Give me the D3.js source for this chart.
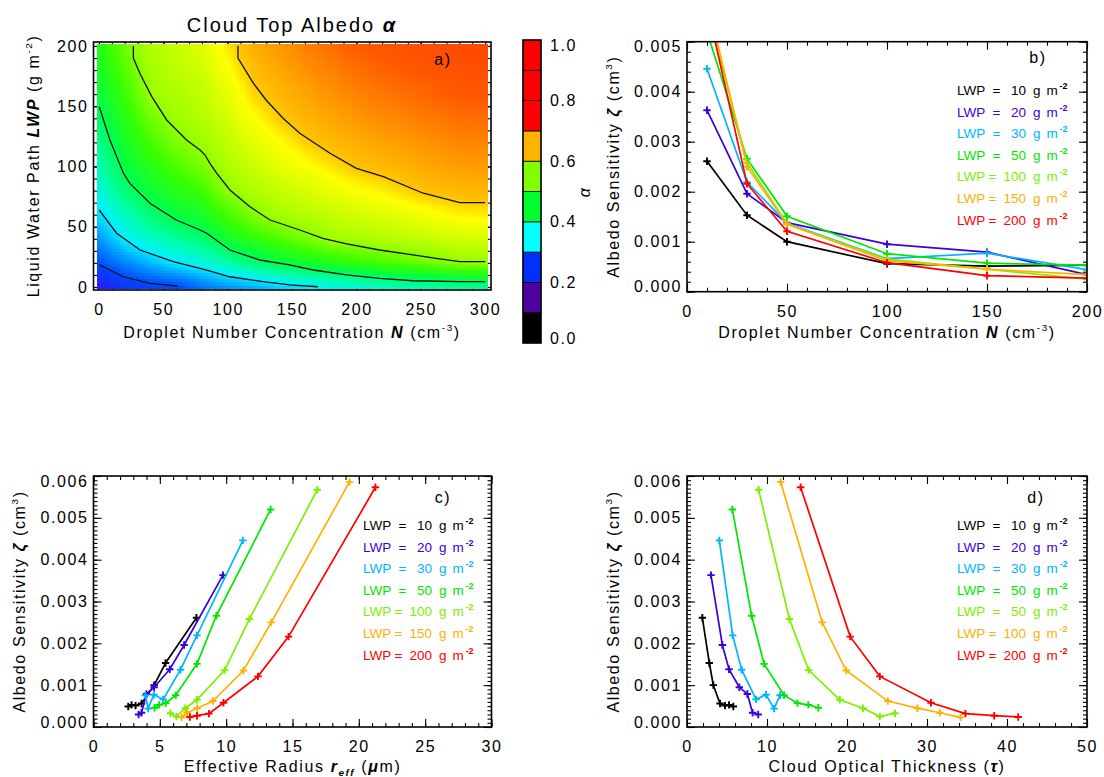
<!DOCTYPE html>
<html><head><meta charset="utf-8">
<script src="https://cdn.jsdelivr.net/npm/d3@7"></script>
<style>
body{margin:0;background:#fff}
text{font-family:"Liberation Sans",Arial,sans-serif;fill:#000}
.lbl{font-size:16px;letter-spacing:1.6px}
</style></head>
<body><svg id="chart" width="1104" height="777"></svg>
<script>
// ================= DATA =================
// Panel a: albedo grid (rows = N columns, values along LWP)
const gridN   = [0,20,40,60,80,100,120,140,160,180,200,220,240,260,280,300];
const gridLWP = [0,20,40,60,80,100,120,140,160,180,200];
const albedoByN = [
 [0.130,0.204,0.247,0.291,0.319,0.342,0.365,0.388,0.406,0.419,0.431],
 [0.175,0.237,0.300,0.338,0.376,0.405,0.420,0.435,0.450,0.465,0.479],
 [0.188,0.269,0.330,0.378,0.412,0.434,0.456,0.478,0.500,0.508,0.517],
 [0.195,0.298,0.356,0.406,0.433,0.459,0.486,0.504,0.514,0.524,0.533],
 [0.225,0.316,0.379,0.421,0.451,0.482,0.504,0.516,0.527,0.538,0.549],
 [0.245,0.348,0.416,0.455,0.494,0.513,0.527,0.542,0.556,0.571,0.585],
 [0.260,0.377,0.439,0.488,0.515,0.534,0.553,0.572,0.591,0.606,0.618],
 [0.280,0.401,0.461,0.508,0.530,0.552,0.574,0.596,0.611,0.625,0.639],
 [0.295,0.415,0.481,0.518,0.543,0.569,0.594,0.612,0.628,0.644,0.660],
 [0.310,0.430,0.502,0.529,0.557,0.585,0.608,0.626,0.643,0.661,0.678],
 [0.320,0.443,0.509,0.540,0.571,0.601,0.620,0.639,0.658,0.677,0.696],
 [0.335,0.456,0.516,0.548,0.581,0.608,0.629,0.649,0.669,0.690,0.705],
 [0.345,0.467,0.523,0.559,0.594,0.617,0.638,0.659,0.679,0.700,0.710],
 [0.350,0.479,0.531,0.570,0.605,0.626,0.647,0.668,0.690,0.705,0.715],
 [0.355,0.494,0.539,0.580,0.611,0.633,0.656,0.678,0.700,0.710,0.720],
 [0.360,0.496,0.541,0.582,0.613,0.635,0.658,0.680,0.702,0.714,0.725]
];
// contour lines, [N, LWP]
const contour020 = [[0.2,18.3],[19,8.5],[39.6,3],[61.6,0.8]];
const contour030 = [[0.2,63.9],[13.7,44.6],[31.9,30.7],[57.7,21],[78.5,15.5],[83.7,14.1],[101.7,8.5],[127.7,4.4],[148,1.7],[170,0.2]];
const contour040 = [[0.2,149.6],[8.5,122],[19,94.4],[24,86],[39.6,69.5],[60,55.6],[78.5,47.3],[83.7,44.6],[101.7,30.7],[125,22.4],[148,18.3],[166.5,14.1],[192.4,10],[218,7.2],[244,5.2],[280.5,4.4],[300,4.4]];
const contour050 = [[26.7,200],[26.7,190],[31.9,177],[41,158],[52.6,138.6],[68,122],[78.5,113.7],[82.4,109.5],[86.2,102.6],[91.4,94.4],[101.7,80.5],[117.3,66.6],[132.9,55.6],[156,47.3],[174,40.4],[192.4,35.7],[218,30.7],[244,26.6],[262,23.8],[280.5,21],[300,21]];
const contour060 = [[108,200],[108,190],[120,169],[130,155],[143,140],[156,127.6],[179.5,111],[200,98.5],[221,91.5],[252,77.8],[280.5,70],[300,70]];
const heatStops  = [0.12,0.2,0.25,0.3,0.35,0.4,0.45,0.5,0.55,0.575,0.6,0.65,0.7,0.73];
const heatColors = ["#3010ff","#0048ff","#0098ff","#00f0ff","#00ffa8","#00ff48","#38ff00","#98ff00","#e0ff00","#ffff00","#ffc400","#ff8c00","#ff5800","#ff4400"];
// colour bar
const cbarBands  = [0,0.1,0.2,0.3,0.4,0.5,0.6,0.7,0.8,0.9];
const cbarColors = ["#000000","#5000a0","#0030ff","#00ffff","#00ff30","#80ff00","#ffb400","#ff0000","#ff0000","#ff0000"];
const cbarTicks  = [0,0.2,0.4,0.6,0.8,1.0];

// Panels b-d
const dropletN = [10,30,50,100,150,200,250];
const seriesColors = ["#000000","#3c00dc","#00b4ff","#00e600","#7cf000","#ffb000","#ff0000"];
const legendB = ["10","20","30","50","100","150","200"];
const legendD = ["10","20","30","50","50","100","200"];
const zeta_LWP10  = [2.61,1.53,1.00,0.56,0.51,0.53,0.49];
const zeta_LWP20  = [3.63,1.96,1.38,0.95,0.79,0.34,0.30];
const zeta_LWP30  = [4.46,2.19,1.37,0.66,0.77,0.44,0.76];
const zeta_LWP50  = [5.20,2.66,1.51,0.76,0.57,0.53,0.46];
const zeta_LWP100 = [5.67,2.58,1.36,0.65,0.45,0.25,0.33];
const zeta_LWP150 = [5.86,2.50,1.35,0.62,0.45,0.34,0.23];
const zeta_LWP200 = [5.73,2.16,1.21,0.58,0.32,0.27,0.24];
const reff_LWP10  = [7.76,5.43,4.57,3.62,3.17,2.87,2.62];
const reff_LWP20  = [9.76,6.83,5.75,4.57,4.00,3.62,3.40];
const reff_LWP30  = [11.26,7.80,6.56,5.25,4.55,4.12,3.91];
const reff_LWP50  = [13.35,9.26,7.80,6.20,5.45,4.95,4.60];
const reff_LWP100 = [16.87,11.75,9.89,7.80,6.92,6.25,5.80];
const reff_LWP150 = [19.30,13.40,11.30,9.00,7.82,7.05,6.65];
const reff_LWP200 = [21.25,14.70,12.40,9.80,8.70,7.80,7.27];
const tau_LWP10   = [1.92,2.79,3.29,4.13,4.75,5.25,5.79];
const tau_LWP20   = [3.00,4.42,5.25,6.54,7.54,8.20,8.90];
const tau_LWP30   = [4.04,5.71,6.83,8.63,9.88,10.88,11.63];
const tau_LWP50   = [5.67,8.08,9.63,12.13,13.80,15.17,16.42];
const tau_LWP100  = [8.95,12.80,15.20,19.10,22.00,24.10,26.00];
const tau_LWP150  = [11.70,16.90,19.90,25.10,28.80,31.60,34.20];
const tau_LWP200  = [14.20,20.40,24.10,30.50,34.80,38.40,41.40];

const zetaSeries = [zeta_LWP10,zeta_LWP20,zeta_LWP30,zeta_LWP50,zeta_LWP100,zeta_LWP150,zeta_LWP200];
const reffSeries = [reff_LWP10,reff_LWP20,reff_LWP30,reff_LWP50,reff_LWP100,reff_LWP150,reff_LWP200];
const tauSeries  = [tau_LWP10,tau_LWP20,tau_LWP30,tau_LWP50,tau_LWP100,tau_LWP150,tau_LWP200];

// ================= DRAW =================
const svg = d3.select("#chart");
const defs = svg.append("defs");

function rich(sel, parts, size){
  let shift = 0;
  parts.forEach(p=>{
    const t = sel.append("tspan").text(p.t);
    let target = 0;
    if (p.sup) target = -0.42*size;
    if (p.sub) target = 0.28*size;
    if (target !== shift){ t.attr("dy", target - shift); shift = target; }
    if (p.sup || p.sub) t.attr("font-size", (size*0.62)+"px");
    if (p.bi){ t.attr("font-weight","bold").attr("font-style","italic"); }
  });
  return sel;
}

function frameAxes(g, sx, sy, cfg){
  const [xl,xr] = sx.range(), [yb,yt] = sy.range();
  const mk = (axis, tr)=>{
    const a = g.append("g").attr("transform",tr).call(axis);
    a.select(".domain").remove();
    a.attr("font-family",null).attr("font-size",null);
    a.selectAll("line").attr("stroke","#000").attr("stroke-width",1.1);
    return a;
  };
  [[d3.axisBottom,`translate(0,${yb})`],[d3.axisTop,`translate(0,${yt})`]].forEach(([f,tr])=>{
    mk(f(sx).tickValues(cfg.xMin).tickSize(-4).tickFormat(""),tr);
    mk(f(sx).tickValues(cfg.xMaj).tickSize(-8).tickFormat(""),tr);
  });
  [[d3.axisLeft,`translate(${xl},0)`],[d3.axisRight,`translate(${xr},0)`]].forEach(([f,tr])=>{
    mk(f(sy).tickValues(cfg.yMin).tickSize(-4).tickFormat(""),tr);
    mk(f(sy).tickValues(cfg.yMaj).tickSize(-8).tickFormat(""),tr);
  });
}
function axisLabels(g, sx, sy, cfg){
  const [xl,xr] = sx.range(), [yb,yt] = sy.range();
  const ax = g.append("g").attr("transform",`translate(0,${yb})`)
    .call(d3.axisBottom(sx).tickValues(cfg.xMaj).tickSize(0).tickPadding(13.5).tickFormat(cfg.xFmt));
  const ay = g.append("g").attr("transform",`translate(${xl},0)`)
    .call(d3.axisLeft(sy).tickValues(cfg.yMaj).tickSize(0).tickPadding(5).tickFormat(cfg.yFmt));
  [ax,ay].forEach(a=>{a.select(".domain").remove(); a.attr("font-family",null).attr("font-size",null); a.selectAll("text").attr("class","lbl");});
  if (cfg.endShift){
    const n = ay.selectAll("text").nodes();
    d3.select(n[0]).attr("y",-cfg.endShift);
    d3.select(n[n.length-1]).attr("y",cfg.endShift);
  }
}
function frameRect(g, sx, sy){
  const [xl,xr] = sx.range(), [yb,yt] = sy.range();
  g.append("rect").attr("x",xl).attr("y",yt).attr("width",xr-xl).attr("height",yb-yt)
    .attr("fill","none").attr("stroke","#000").attr("stroke-width",1.6);
}
function stepTicks(a,b,s){ return d3.range(Math.round((b-a)/s)+1).map(i=>+(a+i*s).toFixed(6)); }

// ---------- Panel a ----------
{
  const g = svg.append("g");
  const sx = d3.scaleLinear().domain([-4.27,304.6]).range([93.5,491]);
  const sy = d3.scaleLinear().domain([-2.49,203.3]).range([290,42]);
  const cfg = {xMaj:stepTicks(0,300,50), xMin:stepTicks(0,300,10), yMaj:stepTicks(0,200,50), yMin:stepTicks(0,200,10), xFmt:d=>d, yFmt:d=>d};
  frameAxes(g,sx,sy,cfg);
  const color = d3.scaleLinear().domain(heatStops).range(heatColors).clamp(true);
  function alphaAt(n,l){
    n = Math.max(0,Math.min(300,n)); l = Math.max(0,Math.min(200,l));
    const i = Math.min(gridN.length-2, d3.bisectRight(gridN,n)-1);
    const j = Math.min(gridLWP.length-2, d3.bisectRight(gridLWP,l)-1);
    const fx = (n-gridN[i])/(gridN[i+1]-gridN[i]);
    const fy = (l-gridLWP[j])/(gridLWP[j+1]-gridLWP[j]);
    const a00=albedoByN[i][j], a10=albedoByN[i+1][j], a01=albedoByN[i][j+1], a11=albedoByN[i+1][j+1];
    return a00*(1-fx)*(1-fy)+a10*fx*(1-fy)+a01*(1-fx)*fy+a11*fx*fy;
  }
  const n0=-1.5, n1=302, l0=-0.8, l1=201.5, nx=120, ny=80;
  const dn=(n1-n0)/nx, dl=(l1-l0)/ny;
  const cells=[];
  for(let a=0;a<nx;a++) for(let b=0;b<ny;b++) cells.push([n0+a*dn, l0+b*dl]);
  g.append("g").attr("shape-rendering","crispEdges").selectAll("rect").data(cells).join("rect")
    .attr("x",d=>sx(d[0])).attr("y",d=>sy(d[1]+dl))
    .attr("width",d=>sx(d[0]+dn)-sx(d[0])+0.6).attr("height",d=>sy(d[1])-sy(d[1]+dl)+0.6)
    .attr("fill",d=>color(alphaAt(d[0]+dn/2,d[1]+dl/2)));
  const line = d3.line().x(d=>sx(d[0])).y(d=>sy(d[1]));
  g.append("g").selectAll("path").data([contour020,contour030,contour040,contour050,contour060]).join("path")
    .attr("d",line).attr("fill","none").attr("stroke","#111").attr("stroke-width",1.3);
  frameRect(g,sx,sy);
  axisLabels(g,sx,sy,cfg);
  rich(g.append("text").attr("x",292).attr("y",31.5).attr("text-anchor","middle")
      .style("font-size","20px").style("letter-spacing","2px"),
      [{t:"Cloud Top Albedo "},{t:"α",bi:true}],20);
  rich(g.append("text").attr("class","lbl").attr("x",292).attr("y",338).attr("text-anchor","middle"),
      [{t:"Droplet Number Concentration "},{t:"N",bi:true},{t:" (cm"},{t:"-3",sup:true},{t:")"}],16);
  rich(g.append("text").attr("class","lbl").attr("text-anchor","middle")
      .attr("transform","translate(39,166) rotate(-90)"),
      [{t:"Liquid Water Path "},{t:"LWP",bi:true},{t:" (g m"},{t:"-2",sup:true},{t:")"}],16);
  g.append("text").attr("class","lbl").attr("x",443).attr("y",65).attr("text-anchor","middle").text("a)");

  // colour bar
  const cy = d3.scaleLinear().domain([0,1]).range([343,40]);
  const cb = svg.append("g");
  cb.selectAll("rect").data(cbarBands).join("rect")
    .attr("x",523).attr("width",18).attr("y",d=>cy(d+0.1)).attr("height",d=>cy(d)-cy(d+0.1))
    .attr("fill",(d,i)=>cbarColors[i]).attr("stroke","#000").attr("stroke-width",0.8);
  cb.append("rect").attr("x",523).attr("y",40).attr("width",18).attr("height",303)
    .attr("fill","none").attr("stroke","#000").attr("stroke-width",1.4);
  cb.selectAll("text.t").data(cbarTicks).join("text").attr("class","lbl")
    .attr("x",550).attr("y",(d,i)=>cy(d)+5.5+(i===0?-5:(i===cbarTicks.length-1?5:0)))
    .text(d=>d.toFixed(1));
  cb.append("text").attr("class","lbl").attr("transform","translate(590,192) rotate(-90)")
    .attr("text-anchor","middle").style("font-style","italic").text("α");
}

// ---------- series panels ----------
function seriesPanel(opts){
  const g = svg.append("g");
  const sx = d3.scaleLinear().domain(opts.xDom).range(opts.xR);
  const sy = d3.scaleLinear().domain(opts.yDom).range(opts.yR);
  frameAxes(g,sx,sy,opts.cfg);
  const cid = "clip"+opts.key;
  defs.append("clipPath").attr("id",cid).append("rect")
    .attr("x",opts.xR[0]).attr("y",opts.yR[1]).attr("width",opts.xR[1]-opts.xR[0]).attr("height",opts.yR[0]-opts.yR[1]);
  const pg = g.append("g").attr("clip-path",`url(#${cid})`);
  const line = d3.line().x(d=>sx(d[0])).y(d=>sy(d[1]));
  zetaSeries.forEach((zs,k)=>{
    const xs = opts.xSeries ? opts.xSeries[k] : dropletN;
    const pts = xs.map((x,i)=>[x, zs[i]*0.001]);
    pg.append("path").attr("d",line(pts)).attr("fill","none").attr("stroke",seriesColors[k]).attr("stroke-width",1.7);
    pg.append("g").selectAll("path").data(pts).join("path")
      .attr("d",d=>{const x=sx(d[0]),y=sy(d[1]);return `M${x-3.7},${y}H${x+3.7}M${x},${y-3.7}V${y+3.7}`;})
      .attr("stroke",seriesColors[k]).attr("stroke-width",1.9);
  });
  frameRect(g,sx,sy);
  axisLabels(g,sx,sy,opts.cfg);
  // legend
  const lx = opts.legX;
  opts.legend.forEach((lab,k)=>{
    const y = opts.legY + k*21.6;
    const lg = g.append("g").style("font-size","13.5px");
    const tx=(x,t,anchor)=>lg.append("text").attr("x",x).attr("y",y).attr("text-anchor",anchor||"start").style("fill",seriesColors[k]).text(t);
    tx(lx,"LWP");
    tx(lx+(lab.length>2?31.5:35.5),"=");
    tx(lx+69,lab,"end");
    tx(lx+76,"g");
    tx(lx+89.5,"m");
    lg.append("text").attr("x",lx+102.5).attr("y",y-6).style("fill",seriesColors[k]).style("font-size","9px").style("font-weight","bold").text("-2");
  });
  g.append("text").attr("class","lbl").attr("x",opts.tag[0]).attr("y",opts.tag[1]).attr("text-anchor","middle").text(opts.tagText);
  rich(g.append("text").attr("class","lbl").attr("x",(opts.xR[0]+opts.xR[1])/2).attr("y",opts.xTitleY).attr("text-anchor","middle"), opts.xTitle,16);
  rich(g.append("text").attr("class","lbl").attr("text-anchor","middle")
    .attr("transform",`translate(${opts.yTitleX},${(opts.yR[0]+opts.yR[1])/2}) rotate(-90)`), opts.yTitle,16);
}
const zetaTitle = [{t:"Albedo Sensitivity "},{t:"ζ",bi:true},{t:" (cm"},{t:"3",sup:true},{t:")"}];
const fmt3 = d=>d3.format(".3f")(d);

seriesPanel({key:"b", xDom:[0,200], xR:[687,1087], yDom:[0,0.005], yR:[291.7,41.7],
  cfg:{xMaj:stepTicks(0,200,50), xMin:stepTicks(0,200,10), yMaj:stepTicks(0,0.005,0.001), yMin:stepTicks(0,0.005,0.0002), xFmt:d=>d, yFmt:fmt3, endShift:5},
  legend:legendB, legX:957, legY:95, tag:[1038,63], tagText:"b)",
  xTitle:[{t:"Droplet Number Concentration "},{t:"N",bi:true},{t:" (cm"},{t:"-3",sup:true},{t:")"}], xTitleY:338,
  yTitle:zetaTitle, yTitleX:619});

seriesPanel({key:"c", xDom:[0,30], xR:[93.5,491.5], yDom:[0,0.006], yR:[727,476], xSeries:reffSeries,
  cfg:{xMaj:stepTicks(0,30,5), xMin:stepTicks(0,30,1), yMaj:stepTicks(0,0.006,0.001), yMin:stepTicks(0,0.006,0.0001), xFmt:d=>d, yFmt:fmt3, endShift:5},
  legend:legendB, legX:363, legY:530, tag:[443,503], tagText:"c)",
  xTitle:[{t:"Effective Radius "},{t:"r",bi:true},{t:"eff",sub:true,bi:true},{t:" ("},{t:"μ",bi:true},{t:"m)"}], xTitleY:772,
  yTitle:zetaTitle, yTitleX:25});

seriesPanel({key:"d", xDom:[0,50], xR:[687,1087], yDom:[0,0.006], yR:[727,476], xSeries:tauSeries,
  cfg:{xMaj:stepTicks(0,50,10), xMin:stepTicks(0,50,2), yMaj:stepTicks(0,0.006,0.001), yMin:stepTicks(0,0.006,0.0001), xFmt:d=>d, yFmt:fmt3, endShift:5},
  legend:legendD, legX:957, legY:530, tag:[1036,503], tagText:"d)",
  xTitle:[{t:"Cloud Optical Thickness ("},{t:"τ",bi:true},{t:")"}], xTitleY:772,
  yTitle:zetaTitle, yTitleX:619});
</script></body></html>
